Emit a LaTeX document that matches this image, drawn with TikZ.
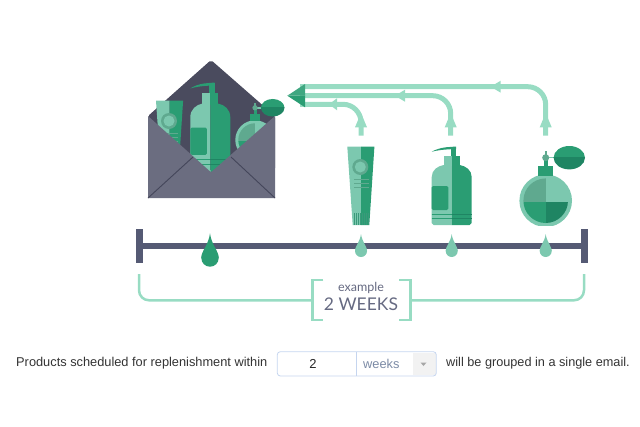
\documentclass[tikz,border=0pt]{standalone}
\usepackage{fontspec}
\setmainfont{Lato}
\newfontfamily\formfont{Liberation Sans}
\definecolor{leaf}{HTML}{2A9D73}
\definecolor{deep}{HTML}{1F8563}
\definecolor{pale}{HTML}{7CC8AF}
\definecolor{dull}{HTML}{5FA98F}
\definecolor{flowcol}{HTML}{98DCC3}
\definecolor{slate}{HTML}{555A74}
\definecolor{envback}{HTML}{4A4B5E}
\definecolor{envfront}{HTML}{6B6D80}
\definecolor{envline}{HTML}{44465A}
\definecolor{inkgray}{HTML}{666A82}
\definecolor{boxline}{HTML}{C5D5EF}
\definecolor{unitgray}{HTML}{7B8AA5}
\tikzset{
  flow/.style={draw=flowcol,line width=5pt},
  brace/.style={draw=flowcol,line width=2.5pt},
  drop/.pic={
    \fill (0,-17) .. controls (1,-9) and (6,-5) .. (6,0) -- (-6,0)
      .. controls (-6,-5) and (-1,-9) .. (0,-17) -- cycle;
    \fill (0,0) circle [radius=6];
  },
  tubeicon/.pic={
    \fill[pale] (-13.7,-78.3) -- (0,-78.3) -- (0,0) -- (-8.3,0) -- cycle;
    \fill[leaf] (0,-78.3) -- (13.4,-78.3) -- (8.3,0) -- (0,0) -- cycle;
    \fill[dull] (-0.7,-58) circle [radius=8];
    \fill[pale] (-0.7,-58) circle [radius=5.5];
    \foreach \ya in {-46,-42,-38}
      \draw[dull,line width=.6pt] (-7,\ya) -- (8,\ya);
    \foreach \xa in {-7,-5,-3,-1,1,3,5,7}
      \draw[deep!70!pale,line width=.6pt] (\xa,-11.7) -- (\xa,0);
  },
  soapicon/.pic={
    \fill[pale] (0,0) -- (-18,0) -- (-20,-2) -- (-20,-48)
      .. controls (-20,-55) and (-14,-59) .. (-8,-60) -- (0,-60) -- cycle;
    \fill[leaf] (0,0) -- (18,0) -- (20,-2) -- (20,-48)
      .. controls (20,-55) and (14,-59) .. (8,-60) -- (0,-60) -- cycle;
    \fill[leaf,rounded corners=1.5pt] (-20,-39) -- (-3.4,-39) -- (-3.4,-15) -- (-20,-15) -- cycle;
    \fill[pale] (-8,-69.3) rectangle (0,-59);
    \fill[leaf] (0,-69.3) rectangle (8,-59);
    \fill[leaf] (-1,-77.7) rectangle (4.3,-69.3);
    \fill[leaf] (4.3,-78.5) -- (-6,-77.7) .. controls (-12,-77) and (-17,-75) .. (-20,-73.3)
      .. controls (-15,-74.5) and (-10,-75.5) .. (4.3,-76) -- cycle;
    \draw[leaf,line width=.6pt] (-20,-11) -- (0,-11) (-20,-7) -- (0,-7);
    \draw[deep,line width=.6pt] (0,-11) -- (20,-11) (0,-7) -- (20,-7);
  },
  perfumeicon/.pic={
    \begin{scope}
      \clip (-30,-30) rectangle (30,24.3);
      \fill[pale] (0,0) circle [radius=26.3];
      \clip (0,0) circle [radius=22.3];
      \fill[dull] (-23,-23) rectangle (0,1.7);
      \fill[pale] (0,-23) rectangle (23,1.7);
      \fill[leaf] (-23,1.7) rectangle (0,23);
      \fill[deep] (0,1.7) rectangle (23,23);
    \end{scope}
    \fill[leaf] (-7.3,-34.7) rectangle (7.3,-25);
    \fill[leaf] (-2,-42) rectangle (2,-34.7);
    \draw[pale,line width=1.5pt] (0,-43) -- (12,-43);
    \fill[dull] (0,-43) circle [radius=3.5];
    \fill[dull] (-1,-50) rectangle (1,-45);
    \begin{scope}
      \clip (5,-58) rectangle (42,-43);
      \fill[leaf] (23.6,-43) ellipse [x radius=15.7,y radius=11.7];
    \end{scope}
    \begin{scope}
      \clip (5,-43) rectangle (42,-28);
      \fill[deep] (23.6,-43) ellipse [x radius=15.7,y radius=11.7];
    \end{scope}
  },
}
\begin{document}
\begin{tikzpicture}[x=1pt,y=-1pt]
  \useasboundingbox (0,0) rectangle (640,426);
  % envelope
  \fill[envback,rounded corners=2pt] (148,116) -- (211,60) -- (275,116) -- (275,170) -- (148,170) -- cycle;
  \pic (mailtube) at (169.7,179) {tubeicon};
  \pic[yscale=1.14] (mailsoap) at (210.3,172) {soapicon};
  \pic[scale=.75] (mailperfume) at (255,140) {perfumeicon};
  \fill[envfront] (148,116) -- (209,170.5) -- (211,172) -- (213,170.5) -- (275,116) -- (275,198) -- (148,198) -- cycle;
  \draw[envline,line width=.9pt] (148,198) -- (193,157) (275,198) -- (231,157);
  % products
  \pic (tube) at (361,225) {tubeicon};
  \pic (soap) at (451.7,225) {soapicon};
  \pic (perfume) at (545.7,200.7) {perfumeicon};
  % arrows back to the envelope
  \coordinate (headtop) at (300,86.7);
  \coordinate (headmid) at (300,95.7);
  \coordinate (headlow) at (300,104.3);
  \coordinate (tubeout) at (361,135.7);
  \coordinate (soapout) at (450.7,135.7);
  \coordinate (perfumeout) at (545.7,135.7);
  \draw[flow,rounded corners=18pt] (tubeout) |- (headlow);
  \draw[flow,rounded corners=18pt] (soapout) |- (headmid);
  \draw[flow,rounded corners=18pt] (perfumeout) |- (headtop);
  \foreach \xa in {361,450.7,545.7}
    \fill[flowcol] (\xa,113) -- (\xa+6,127.3) -- (\xa-6,127.3) -- cycle;
  \fill[flowcol] (329,104.3) -- (337,98.3) -- (337,110.3) -- cycle;
  \fill[flowcol] (395,95.7) -- (405,89.7) -- (405,101.7) -- cycle;
  \fill[flowcol] (490.7,86.7) -- (500.7,80.7) -- (500.7,92.7) -- cycle;
  \fill[leaf!90!white] (287.3,95.7) -- (305,84) -- (305,95.7) -- cycle;
  \fill[leaf] (287.3,95.7) -- (305,107.3) -- (305,95.7) -- cycle;
  % time line
  \fill[slate] (136,229.3) rectangle (142.7,262.7);
  \fill[slate] (580.7,229.3) rectangle (587.7,262.7);
  \fill[slate] (142,242.7) rectangle (581,249.3);
  \pic[leaf,scale=1.45] (sent) at (210,258) {drop};
  \pic[pale] (droptube) at (361,251) {drop};
  \pic[pale] (dropsoap) at (451.7,251) {drop};
  \pic[pale] (dropperfume) at (545.7,251) {drop};
  % period label
  \node[text=inkgray,font=\fontsize{12.5}{14}\selectfont] (example) at (361,287.5) {example};
  \node[text=inkgray,font=\fontsize{17.5}{20}\selectfont] (period) at (361,304.5) {2 WEEKS};
  \coordinate (braceleft) at (139,274);
  \coordinate (braceright) at (584,274);
  \coordinate (bracketleft) at (312.7,300.3);
  \coordinate (bracketright) at (410.7,300.3);
  \draw[brace,rounded corners=10pt] (braceleft) |- (bracketleft);
  \draw[brace,rounded corners=10pt] (braceright) |- (bracketright);
  \draw[brace] (323.3,280) -| (312.7,320) -- (323.3,320);
  \draw[brace] (399.3,280) -| (410.7,320) -- (399.3,320);
  % form line
  \node[anchor=west,inner sep=0pt,font=\formfont\fontsize{12.8}{14}\selectfont,text=black!80] (before) at (16,363.5) {Products scheduled for replenishment within};
  \node[anchor=west,inner sep=0pt,font=\formfont\fontsize{12.7}{14}\selectfont,text=black!80] (after) at (446,363.5) {will be grouped in a single email.};
  \fill[black!5] (413,352.5) rectangle (435.5,375.2);
  \draw[boxline,rounded corners=3pt,line width=.8pt] (277.3,351.7) rectangle (436.3,376);
  \draw[boxline,line width=.8pt] (356.3,351.7) -- (356.3,376);
  \node[inner sep=0pt,font=\formfont\fontsize{13}{15}\selectfont,text=black!85] (amount) at (313,364) {2};
  \node[anchor=west,inner sep=0pt,font=\formfont\fontsize{12.8}{15}\selectfont,text=unitgray] (unit) at (363,364) {weeks};
  \fill[black!35] (420.5,362.5) -- (426.5,362.5) -- (423.5,366) -- cycle;
\end{tikzpicture}
\end{document}
